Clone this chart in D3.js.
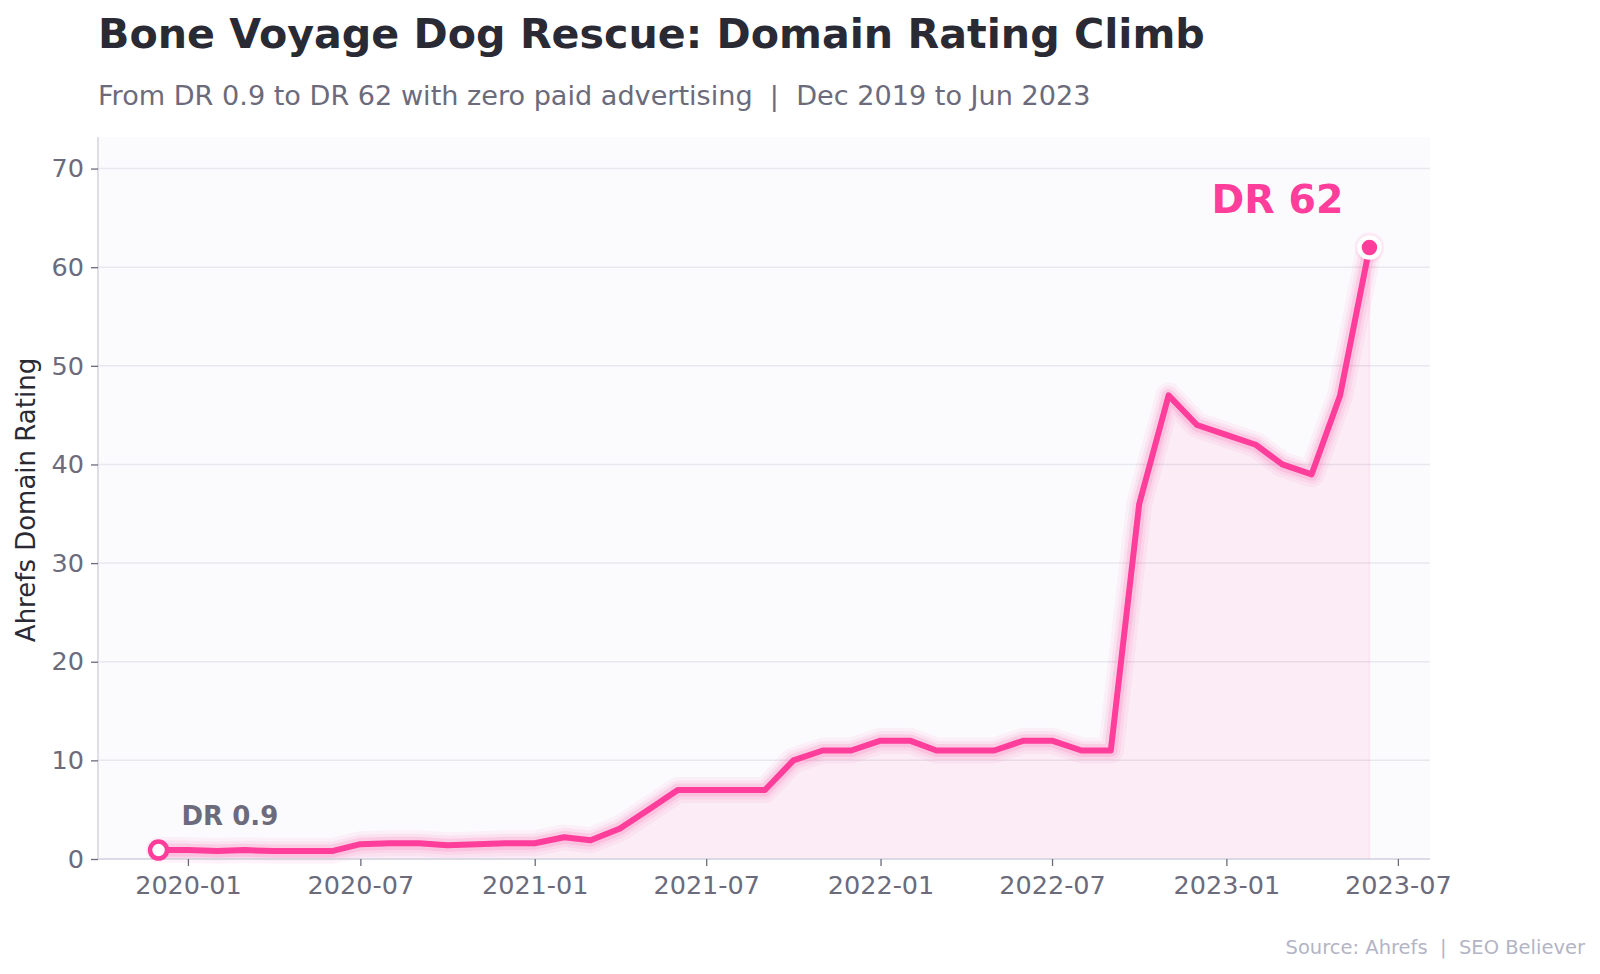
<!DOCTYPE html>
<html>
<head>
<meta charset="utf-8">
<script src="https://cdn.jsdelivr.net/npm/d3@7"></script>
<style>
  html, body { margin: 0; padding: 0; background: #ffffff; }
  svg { display: block; font-family: "DejaVu Sans", sans-serif; }
  text { white-space: pre; }
</style>
</head>
<body>
<svg id="chart" width="1600" height="974"></svg>
<script>
// ---- data ----
const months = [
  "2019-12","2020-01","2020-02","2020-03","2020-04","2020-05","2020-06","2020-07","2020-08","2020-09","2020-10","2020-11","2020-12",
  "2021-01","2021-02","2021-03","2021-04","2021-05","2021-06","2021-07","2021-08","2021-09","2021-10","2021-11","2021-12",
  "2022-01","2022-02","2022-03","2022-04","2022-05","2022-06","2022-07","2022-08","2022-09","2022-10","2022-11","2022-12",
  "2023-01","2023-02","2023-03","2023-04","2023-05","2023-06"
];
const domainRating = [
  0.9, 0.9, 0.8, 0.9, 0.8, 0.8, 0.8, 1.5, 1.6, 1.6, 1.4, 1.5, 1.6,
  1.6, 2.2, 1.9, 3.1, 5, 7, 7, 7, 7, 10, 11, 11,
  12, 12, 11, 11, 11, 12, 12, 11, 11, 36, 47, 44,
  43, 42, 40, 39, 47, 62
];
const yTicks = [0, 10, 20, 30, 40, 50, 60, 70];
const xTickLabels = ["2020-01","2020-07","2021-01","2021-07","2022-01","2022-07","2023-01","2023-07"];

const titleText = "Bone Voyage Dog Rescue: Domain Rating Climb";
const subtitleText = "From DR 0.9 to DR 62 with zero paid advertising  |  Dec 2019 to Jun 2023";
const yLabelText = "Ahrefs Domain Rating";
const sourceText = "Source: Ahrefs  |  SEO Believer";

// ---- setup ----
const parse = d3.timeParse("%Y-%m");
const data = months.map((m, i) => ({ date: parse(m), value: domainRating[i] }));

const PINK = "#ff3d9a";
const margin = { left: 98, right: 170, top: 137, bottom: 115 };
const W = 1600, H = 974;
const svg = d3.select("#chart");

const x0 = data[0].date, x1 = data[data.length - 1].date;
const pad = (x1 - x0) * 0.05;
const x = d3.scaleTime()
  .domain([new Date(+x0 - pad), new Date(+x1 + pad)])
  .range([margin.left, W - margin.right]);
const y = d3.scaleLinear()
  .domain([0, 73.2])
  .range([H - margin.bottom, margin.top]);

const plotL = margin.left, plotR = W - margin.right, plotT = margin.top, plotB = H - margin.bottom;

// plot background
svg.append("rect")
  .attr("x", plotL).attr("y", plotT)
  .attr("width", plotR - plotL).attr("height", plotB - plotT)
  .attr("fill", "#fbfbfe");

// grid
svg.append("g")
  .selectAll("line")
  .data(yTicks)
  .join("line")
  .attr("x1", plotL).attr("x2", plotR)
  .attr("y1", d => y(d)).attr("y2", d => y(d))
  .attr("stroke", "#e8e8ef").attr("stroke-width", 1.5);

// area
const area = d3.area().x(d => x(d.date)).y0(y(0)).y1(d => y(d.value));
svg.append("path").datum(data)
  .attr("d", area)
  .attr("fill", PINK).attr("fill-opacity", 0.08);
svg.append("line")
  .attr("x1", x(x1)).attr("x2", x(x1))
  .attr("y1", y(data[data.length - 1].value)).attr("y2", y(0))
  .attr("stroke", PINK).attr("stroke-opacity", 0.08).attr("stroke-width", 1.5);

// glow + line
const line = d3.line().x(d => x(d.date)).y(d => y(d.value));
[[26, 0.06], [19, 0.08], [13, 0.12]].forEach(([w, a]) => {
  svg.append("path").datum(data)
    .attr("d", line)
    .attr("fill", "none")
    .attr("stroke", PINK).attr("stroke-opacity", a)
    .attr("stroke-width", w)
    .attr("stroke-linejoin", "round").attr("stroke-linecap", "round");
});
svg.append("path").datum(data)
  .attr("d", line)
  .attr("fill", "none")
  .attr("stroke", PINK)
  .attr("stroke-width", 6)
  .attr("stroke-linejoin", "round").attr("stroke-linecap", "round");

// axes
const axisColor = "#d4d4e0";
const tickColor = "#6b6b7b";
const yAxis = svg.append("g")
  .attr("transform", `translate(${plotL},0)`)
  .call(d3.axisLeft(y).tickValues(yTicks).tickSize(7).tickPadding(7).tickFormat(d3.format("d")));
yAxis.select(".domain").attr("stroke", axisColor).attr("stroke-width", 1.5).attr("d", `M0,${plotT}V${plotB}`);
yAxis.selectAll(".tick line").attr("stroke", tickColor).attr("stroke-width", 1.3);
yAxis.selectAll(".tick text").attr("fill", tickColor).attr("font-size", 25.5).attr("font-family", "DejaVu Sans");

const xTickDates = xTickLabels.map(parse);
const xAxis = svg.append("g")
  .attr("transform", `translate(0,${plotB})`)
  .call(d3.axisBottom(x).tickValues(xTickDates).tickSize(7).tickPadding(10).tickFormat(d3.timeFormat("%Y-%m")));
xAxis.select(".domain").attr("stroke", axisColor).attr("stroke-width", 1.5).attr("d", `M${plotL},0H${plotR}`);
xAxis.selectAll(".tick line").attr("stroke", tickColor).attr("stroke-width", 1.3);
xAxis.selectAll(".tick text").attr("fill", tickColor).attr("font-size", 25.5).attr("font-family", "DejaVu Sans");

// markers
const first = data[0], last = data[data.length - 1];
svg.append("circle")
  .attr("cx", x(first.date)).attr("cy", y(first.value)).attr("r", 8.5)
  .attr("fill", "#ffffff").attr("stroke", PINK).attr("stroke-width", 4.5);
svg.append("circle")
  .attr("cx", x(last.date)).attr("cy", y(last.value)).attr("r", 15)
  .attr("fill", PINK).attr("fill-opacity", 0.08);
svg.append("circle")
  .attr("cx", x(last.date)).attr("cy", y(last.value)).attr("r", 10)
  .attr("fill", PINK).attr("stroke", "#ffffff").attr("stroke-width", 4.5);

// annotations
svg.append("text")
  .attr("x", x(first.date) + 23).attr("y", y(first.value) - 25)
  .attr("font-size", 26).attr("font-weight", "bold").attr("fill", "#6b6b7b")
  .text("DR " + first.value);
svg.append("text")
  .attr("x", x(last.date) - 26).attr("y", y(last.value) - 34)
  .attr("text-anchor", "end")
  .attr("font-size", 39.5).attr("font-weight", "bold").attr("fill", PINK)
  .text("DR " + last.value);

// titles
svg.append("text")
  .attr("x", 98).attr("y", 48)
  .attr("font-size", 41.2).attr("font-weight", "bold").attr("fill", "#2a2a35")
  .text(titleText);
svg.append("text")
  .attr("x", 98).attr("y", 105)
  .attr("font-size", 27.1).attr("fill", "#6b6b7b")
  .text(subtitleText);

// y label
svg.append("text")
  .attr("transform", `translate(35,${(plotT + plotB) / 2 + 2}) rotate(-90)`)
  .attr("text-anchor", "middle")
  .attr("font-size", 26).attr("fill", "#2a2a35")
  .text(yLabelText);

// source
svg.append("text")
  .attr("x", 1585).attr("y", 954)
  .attr("text-anchor", "end")
  .attr("font-size", 19.5).attr("fill", "#b4b4c4")
  .text(sourceText);
</script>
</body>
</html>
